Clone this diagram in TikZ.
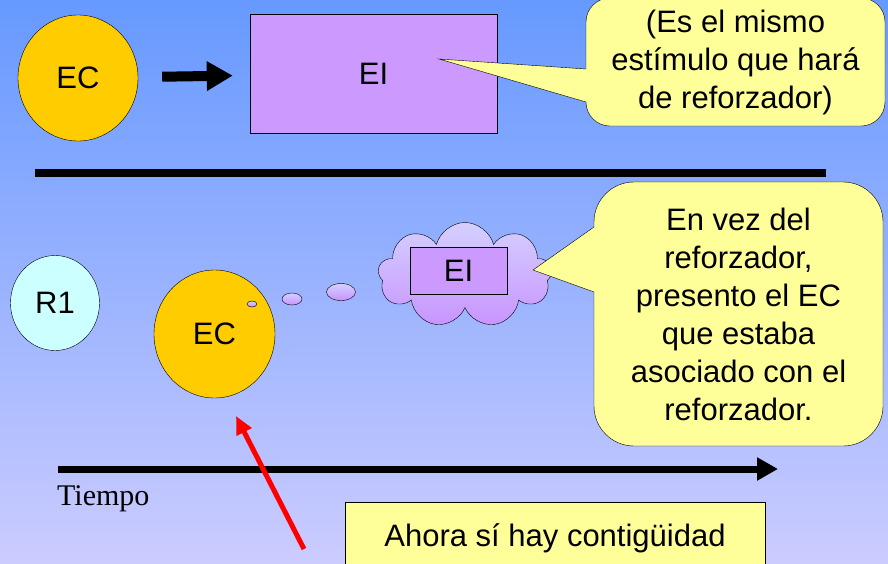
\documentclass[tikz,border=0pt]{standalone}
\usepackage{fontspec}
\setmainfont{Liberation Sans}
\newfontfamily\serifface{Liberation Serif}
\usepackage{tikz}
\usetikzlibrary{arrows.meta}
\usetikzlibrary{positioning, shapes.geometric, shapes.symbols}
\definecolor{ecgold}{HTML}{FFCC00}
\definecolor{eililac}{HTML}{CC99FF}
\definecolor{rcyan}{HTML}{CCFFFF}
\definecolor{noteyellow}{HTML}{FFFF99}
\definecolor{skytop}{HTML}{6699FF}
\definecolor{skybottom}{HTML}{CCCCFF}
\definecolor{pufftop}{HTML}{D4D0FF}
\definecolor{puffbottom}{HTML}{C894FF}
\tikzset{
stimulus/.style = { ellipse, draw = black, fill = ecgold, inner sep = 0pt },
response/.style = { ellipse, draw = black, fill = rcyan, inner sep = 0pt },
ei box/.style = { rectangle, draw = black, fill = eililac, inner sep = 0pt },
note/.style = { rectangle, draw = black, fill = noteyellow, align = center },
puff/.style = { ellipse, draw = black, top color = pufftop, bottom color = puffbottom, inner sep = 0pt },
}

\begin{document}
\begin{tikzpicture}[x = 1pt, y = -1pt, font = \fontsize{31}{38}\selectfont]
    \useasboundingbox (0, 0) rectangle (888, 563);
    \fill[top color = skytop, bottom color = skybottom] (0, 0) rectangle (888, 563);
    % top row
    \node[stimulus, minimum width = 120pt, minimum height = 126pt] (ec top) at (78, 78) {EC};
    \node[ei box, minimum width = 247pt, minimum height = 119pt] (ei top) at (373.5, 73.5) {EI};
    \draw[line width = 10pt, shorten <= 24pt, shorten >= 17pt, -{Triangle[length = 26pt, width = 28pt]}] (ec top) -- (ei top);
    \node[note, rounded corners = 24pt, minimum width = 299pt, minimum height = 128pt] (why note) at (735.5, 62) {(Es el mismo\\ estímulo que hará\\ de reforzador)};
    \coordinate (why tip) at (439, 59);
    \fill[noteyellow] (586, 69) -- (why tip) -- (586, 102) -- (592, 102) -- (592, 69) -- cycle;
    \draw (586, 69) -- (why tip) -- (586, 102);
    \coordinate (sep left) at (35, 173);
    \coordinate (sep right) at (826, 173);
    \draw[line width = 8pt] (sep left) -- (sep right);
    % bottom row
    \node[response, minimum width = 89pt, minimum height = 95pt] (r one) at (55, 303) {R1};
    \node[stimulus, minimum width = 121pt, minimum height = 128pt] (ec low) at (214.5, 334) {EC};
    \node[puff, minimum width = 10pt, minimum height = 6pt] (puff a) at (252, 304) {};
    \node[puff, minimum width = 20pt, minimum height = 12pt] (puff b) at (292, 299) {};
    \node[puff, minimum width = 29pt, minimum height = 17pt] (puff c) at (341, 292) {};
    \node[cloud, cloud puffs = 9, aspect = 1.7, draw = black, top color = pufftop, bottom color = puffbottom, minimum width = 174pt, minimum height = 105pt, inner sep = 0pt] (dream) at (465, 275) {};
    \node[ei box, minimum width = 97pt, minimum height = 47pt] (ei dream) at (458.5, 270.5) {EI};
    \node[note, rounded corners = 40pt, minimum width = 289pt, minimum height = 264pt] (swap note) at (738.5, 314) {En vez del\\ reforzador,\\ presento el EC\\ que estaba\\ asociado con el\\ reforzador.};
    \coordinate (swap tip) at (533, 270);
    \fill[noteyellow] (594, 227) -- (swap tip) -- (594, 292) -- (600, 292) -- (600, 227) -- cycle;
    \draw (594, 227) -- (swap tip) -- (594, 292);
    % time axis
    \coordinate (time start) at (58, 469);
    \coordinate (time end) at (778, 469);
    \draw[line width = 7pt, -{Triangle[length = 21pt, width = 22pt]}] (time start) -- (time end);
    \node[font = \serifface\fontsize{30}{36}\selectfont, anchor = base west, inner sep = 0pt] (time label) at (57, 505) {Tiempo};
    \coordinate (hint tail) at (304, 549);
    \coordinate (hint tip) at (236, 416);
    \draw[red, line width = 5pt, -{Triangle[length = 18pt, width = 16pt]}] (hint tail) -- (hint tip);
    \node[note, anchor = north, minimum width = 420pt, inner ysep = 21pt] (now box) at (555, 502) {Ahora sí hay contigüidad};
\end{tikzpicture}
\end{document}
